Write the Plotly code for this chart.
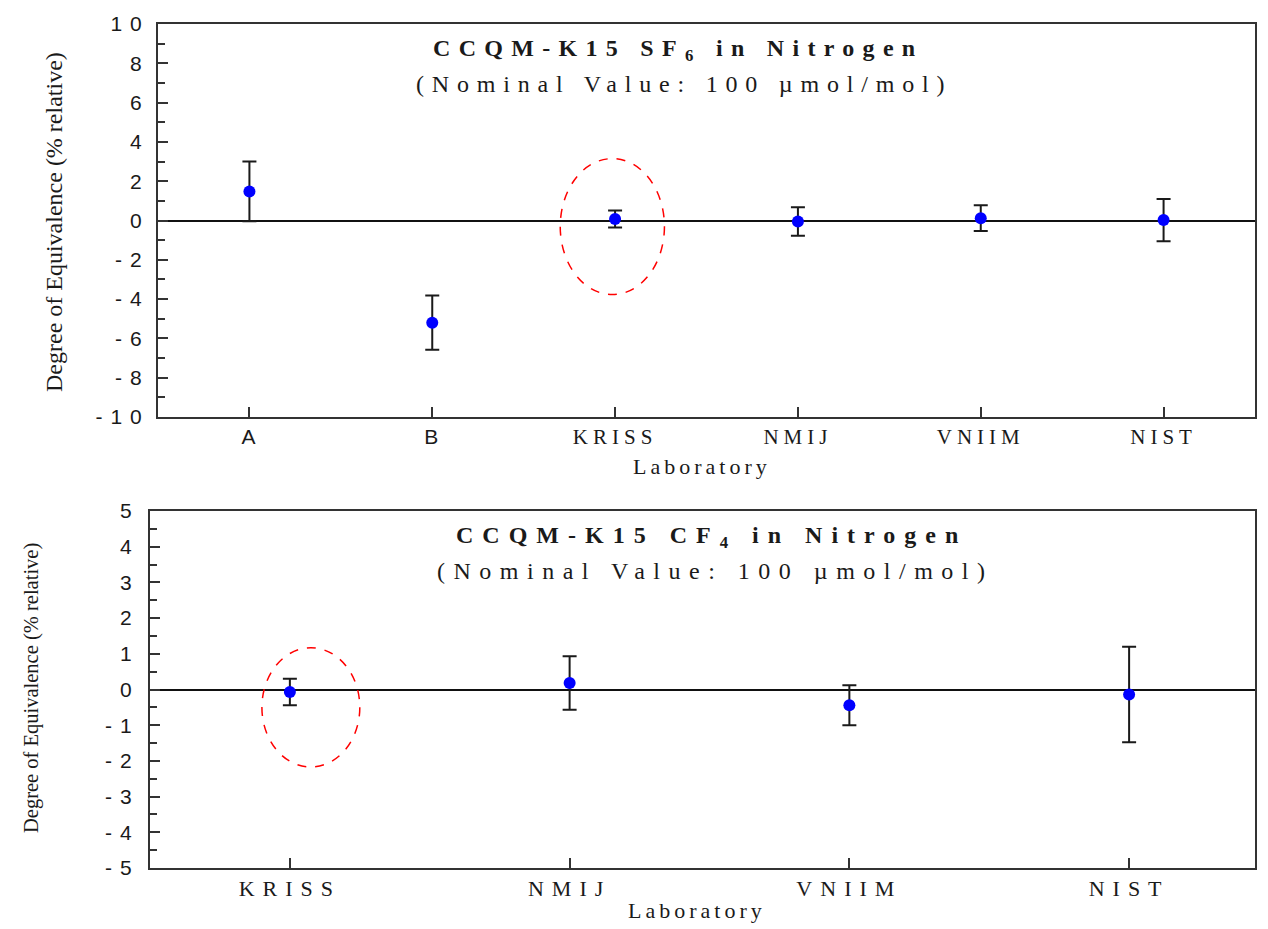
import plotly.graph_objects as go

# ---------------- data ----------------
labs_top = ["A", "B", "KRISS", "NMIJ", "VNIIM", "NIST"]
doe_top = [1.48, -5.2, 0.08, -0.05, 0.12, 0.02]
unc_top = [1.52, 1.38, 0.43, 0.73, 0.66, 1.07]

labs_bot = ["KRISS", "NMIJ", "VNIIM", "NIST"]
doe_bot = [-0.07, 0.18, -0.44, -0.14]
unc_bot = [0.37, 0.75, 0.56, 1.34]

yticks_top = [10, 8, 6, 4, 2, 0, -2, -4, -6, -8, -10]
yticks_bot = [5, 4, 3, 2, 1, 0, -1, -2, -3, -4, -5]

title_top_1 = "CCQM-K15 SF<sub>6</sub> in Nitrogen"
title_bot_1 = "CCQM-K15 CF<sub>4</sub> in Nitrogen"
title_2 = "(Nominal Value: 100 µmol/mol)"
ytitle = "Degree of Equivalence (% relative)"
xtitle = "Laboratory"

W, H = 1268, 929
OFF = 8  # page body margin
SERIF = "Liberation Serif"
SANS = "Liberation Sans"
TXT = "#1a1a1a"


def px(x):
    return (x - OFF) / W


def py(y):
    return 1 - (y - OFF) / H


def sp(t, ls):
    return f'<span style="letter-spacing:{ls}px">{t}</span>'


def cat_text(lbls):
    out = []
    for l in lbls:
        if len(l) == 1:
            out.append(f'<span style="font-family:{SANS};letter-spacing:2px">{l}</span>')
        else:
            out.append(sp(l, 5))
    return out


fig = go.Figure()

fig.add_trace(go.Scatter(
    x=list(range(len(labs_top))), y=doe_top, mode="markers",
    marker=dict(color="#0000ff", size=12, symbol="circle"),
    error_y=dict(type="data", array=unc_top, visible=True, color="#1a1a1a",
                 thickness=2, width=7),
    xaxis="x", yaxis="y", showlegend=False))

fig.add_trace(go.Scatter(
    x=list(range(len(labs_bot))), y=doe_bot, mode="markers",
    marker=dict(color="#0000ff", size=12, symbol="circle"),
    error_y=dict(type="data", array=unc_bot, visible=True, color="#1a1a1a",
                 thickness=2, width=7),
    xaxis="x2", yaxis="y2", showlegend=False))

axis_common = dict(showline=True, mirror=True, linecolor="#333333", linewidth=2,
                   showgrid=False, ticks="inside", tickcolor="#333333",
                   tickwidth=2, fixedrange=True, automargin=False)

fig.update_layout(
    width=W, height=H, autosize=False,
    margin=dict(l=0, r=0, t=0, b=0),
    paper_bgcolor="white", plot_bgcolor="white",
    xaxis=dict(domain=[px(158), px(1255)], anchor="y",
               range=[-0.5, 5.5], tickvals=list(range(len(labs_top))),
               ticktext=cat_text(labs_top), ticklen=10,
               tickfont=dict(family=SERIF, size=21, color=TXT),
               zeroline=False, **axis_common),
    yaxis=dict(domain=[py(417), py(24)], anchor="x",
               range=[-10, 10], tickvals=yticks_top,
               ticktext=[sp(v, 8) for v in yticks_top], ticklen=10,
               tickfont=dict(family=SANS, size=21, color=TXT),
               ticklabelstandoff=2,
               minor=dict(dtick=1, ticks="inside", ticklen=7, tickcolor="#333333", tickwidth=2),
               zeroline=True, zerolinecolor="#111111", zerolinewidth=1.5,
               **axis_common),
    xaxis2=dict(domain=[px(150), px(1255)], anchor="y2",
                range=[-0.5, 3.45], tickvals=list(range(len(labs_bot))),
                ticktext=[sp(l, 8) for l in labs_bot], ticklen=10,
                tickfont=dict(family=SERIF, size=22, color=TXT),
                ticklabelstandoff=0,
                zeroline=False, **axis_common),
    yaxis2=dict(domain=[py(868), py(511)], anchor="x2",
                range=[-5, 5], tickvals=yticks_bot,
                ticktext=[sp(v, 8) for v in yticks_bot], ticklen=10,
                tickfont=dict(family=SANS, size=21, color=TXT),
                ticklabelstandoff=4,
                minor=dict(dtick=0.5, ticks="inside", ticklen=7, tickcolor="#333333", tickwidth=2),
                zeroline=True, zerolinecolor="#111111", zerolinewidth=1.5,
                **axis_common),
)

# red dashed ellipses around KRISS
fig.add_shape(type="circle", xref="x", yref="y", x0=1.70, x1=2.27, y0=-3.77, y1=3.15,
              line=dict(color="#ff0000", width=1.5, dash="dash"))
fig.add_shape(type="circle", xref="x2", yref="y2", x0=-0.10, x1=0.25, y0=-2.17, y1=1.17,
              line=dict(color="#ff0000", width=1.5, dash="dash"))

ann = [
    dict(x=px(678), y=py(50), text="<b>" + sp(title_top_1, 8.3) + "</b>", size=24),
    dict(x=px(684), y=py(84), text=sp(title_2, 7.8), size=24),
    dict(x=px(711), y=py(537), text="<b>" + sp(title_bot_1, 9) + "</b>", size=24),
    dict(x=px(715), y=py(571), text=sp(title_2, 8.5), size=24),
    dict(x=px(702), y=py(466), text=sp(xtitle, 4), size=22),
    dict(x=px(697), y=py(910), text=sp(xtitle, 4), size=22),
]
for a in ann:
    fig.add_annotation(x=a["x"], y=a["y"], xref="paper", yref="paper", text=a["text"],
                       showarrow=False, xanchor="center", yanchor="middle",
                       font=dict(family=SERIF, size=a["size"], color=TXT))

fig.add_annotation(x=px(54), y=py(222), xref="paper", yref="paper", text=ytitle,
                   showarrow=False, textangle=-90, xanchor="center", yanchor="middle",
                   font=dict(family=SERIF, size=24, color=TXT))
fig.add_annotation(x=px(31), y=py(688), xref="paper", yref="paper", text=ytitle,
                   showarrow=False, textangle=-90, xanchor="center", yanchor="middle",
                   font=dict(family=SERIF, size=20.5, color=TXT))

fig.write_html("out.html")
